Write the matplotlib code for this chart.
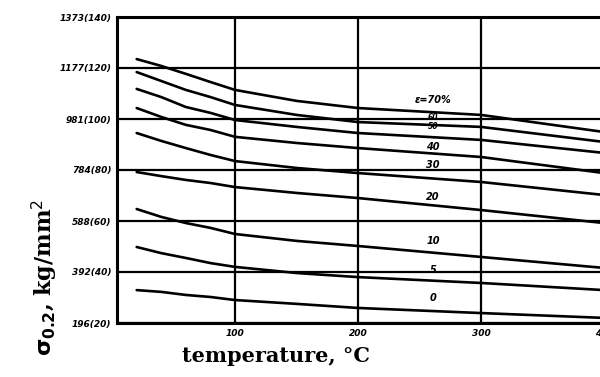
import matplotlib
matplotlib.use("Agg")
import matplotlib.pyplot as plt

# temperature points (deg C)
temps = [20, 40, 60, 80, 100, 150, 200, 300, 400]

# yield stress sigma_0.2 in kg/mm^2 for each cold-work level
strain_labels = ["70", "60", "50", "40", "30", "20", "10", "5", "0"]
sig_70 = [123.5, 120.8, 117.7, 114.5, 111.4, 107.1, 104.3, 101.6, 94.9]
sig_60 = [118.4, 114.9, 111.4, 108.6, 105.5, 101.6, 98.8, 96.9, 91.0]
sig_50 = [111.8, 108.6, 104.7, 102.4, 99.6, 96.9, 94.5, 91.8, 86.7]
sig_40 = [104.3, 100.8, 97.7, 95.7, 93.0, 90.6, 88.6, 85.1, 78.8]
sig_30 = [94.5, 91.4, 88.6, 85.9, 83.5, 80.8, 78.8, 75.3, 70.2]
sig_20 = [79.2, 77.6, 76.1, 74.9, 73.3, 71.0, 69.0, 64.3, 59.2]
sig_10 = [64.7, 61.6, 59.2, 57.3, 54.9, 52.2, 50.2, 45.9, 41.6]
sig_5 = [49.8, 47.4, 45.5, 43.5, 42.0, 39.6, 38.0, 35.7, 32.9]
sig_0 = [32.9, 32.2, 31.0, 30.2, 29.0, 27.5, 25.9, 23.9, 22.0]
curves = [sig_70, sig_60, sig_50, sig_40, sig_30, sig_20, sig_10, sig_5, sig_0]

# where the curve labels sit (temperature, stress)
label_x = [246, 261, 261, 261, 261, 261, 261, 261, 261]
label_y = [107.5, 100.4, 96.9, 89.0, 82.0, 69.4, 52.2, 40.8, 29.8]

y_ticks = [20, 40, 60, 80, 100, 120, 140]
y_ticklabels = ["196(20)", "392(40)", "588(60)", "784(80)", "981(100)", "1177(120)", "1373(140)"]
x_ticks = [100, 200, 300, 400]
x_ticklabels = ["100", "200", "300", "400"]

fig = plt.figure(figsize=(6, 3.77), dpi=100)
ax = fig.add_axes([117 / 600, 1 - 323 / 377, 487 / 600, 306 / 377])

for ys in curves:
    ax.plot(temps, ys, color="black", lw=1.9, solid_capstyle="round",
            solid_joinstyle="round")

for i, lab in enumerate(strain_labels):
    txt = "\u03b5=70%" if i == 0 else lab
    fs = 5.5 if lab in ("60", "50") else 7
    ax.text(label_x[i], label_y[i], txt, fontsize=fs, style="italic",
            fontweight="bold", ha="left" if i == 0 else "center", va="center")

ax.set_xlim(4, 400)
ax.set_ylim(20, 140)
ax.set_xticks(x_ticks)
ax.set_xticklabels(x_ticklabels)
ax.set_yticks(y_ticks)
ax.set_yticklabels(y_ticklabels)
ax.tick_params(length=0, pad=4)
for lab in ax.get_xticklabels() + ax.get_yticklabels():
    lab.set_fontstyle("italic")
    lab.set_fontweight("bold")
    lab.set_fontsize(6.5)

ax.grid(True, color="black", lw=1.6)
for s in ax.spines.values():
    s.set_linewidth(2.2)

fig.text(0.075, 0.265, r"$\mathbf{\sigma_{0.2}}$, kg/mm$^2$", rotation=90,
         fontsize=16, family="DejaVu Serif", fontweight="bold",
         ha="center", va="center")
fig.text(0.46, 0.055, "temperature, \u00b0C", fontsize=15,
         family="DejaVu Serif", fontweight="bold", ha="center", va="center")

fig.savefig("out.png", dpi=100)
